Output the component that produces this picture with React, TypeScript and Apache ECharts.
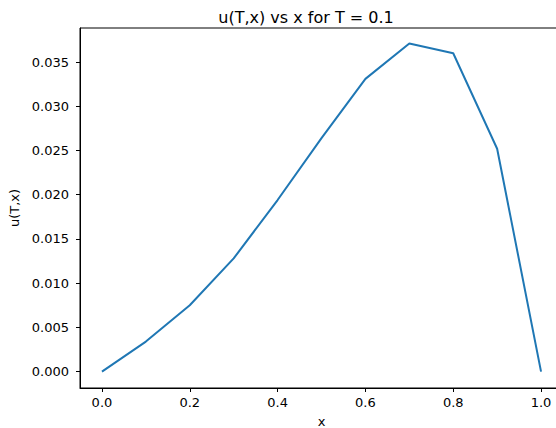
import React, { useEffect, useRef } from "react";
import * as echarts from "echarts";

const xValues = [0, 0.1, 0.2, 0.3, 0.4, 0.5, 0.6, 0.7, 0.8, 0.9, 1.0];
const uValues = [0, 0.0034, 0.0075, 0.0128, 0.0194, 0.0264, 0.0331, 0.0371, 0.036, 0.0252, 0];
const xTicks = [0, 0.2, 0.4, 0.6, 0.8, 1.0];
const yTicks = [0, 0.005, 0.01, 0.015, 0.02, 0.025, 0.03, 0.035];

const FONT = "DejaVu Sans";

export default function App() {
  const ref = useRef<HTMLDivElement>(null);
  useEffect(() => {
    if (!ref.current) return;
    const chart = echarts.init(ref.current, null, { renderer: "svg" });
    chart.setOption({
      animation: false,
      backgroundColor: "#ffffff",
      title: {
        text: "u(T,x) vs x for T = 0.1",
        left: 301,
        top: 4,
        textAlign: "center",
        textStyle: { fontFamily: FONT, fontSize: 16, fontWeight: "normal", color: "#000" },
      },
      grid: {
        left: 80,
        top: 28,
        right: 17,
        bottom: 40,
        outerBoundsMode: "none",
        containLabel: false,
        show: true,
        borderColor: "#000",
        borderWidth: 1,
        backgroundColor: "transparent",
      },
      xAxis: {
        type: "value",
        min: -0.05,
        max: 1.05,
        name: "x",
        nameLocation: "middle",
        nameGap: 27,
        nameTextStyle: { fontFamily: FONT, fontSize: 13, color: "#000" },
        splitLine: { show: false },
        axisLine: { show: true, onZero: false, lineStyle: { color: "#000", width: 1 } },
        axisTick: { show: true, length: 4, lineStyle: { color: "#000" }, customValues: xTicks },
        axisLabel: {
          customValues: xTicks,
          margin: 8,
          fontFamily: FONT,
          fontSize: 13,
          color: "#000",
          formatter: (v: number) => v.toFixed(1),
        },
      },
      yAxis: {
        type: "value",
        min: -0.00185,
        max: 0.03885,
        name: "u(T,x)",
        nameLocation: "middle",
        nameGap: 53,
        nameTextStyle: { fontFamily: FONT, fontSize: 13, color: "#000" },
        splitLine: { show: false },
        axisLine: { show: true, onZero: false, lineStyle: { color: "#000", width: 1 } },
        axisTick: { show: true, length: 4, lineStyle: { color: "#000" }, customValues: yTicks },
        axisLabel: {
          customValues: yTicks,
          margin: 11,
          fontFamily: FONT,
          fontSize: 13,
          color: "#000",
          formatter: (v: number) => v.toFixed(3),
        },
      },
      series: [
        {
          type: "line",
          data: xValues.map((x, i) => [x, uValues[i]]),
          showSymbol: false,
          symbol: "none",
          lineStyle: { color: "#1f77b4", width: 2 },
        },
      ],
    });
    return () => chart.dispose();
  }, []);
  return (
    <div
      style={{ position: "absolute", left: 0, top: 0, width: 556, height: 428, overflow: "hidden" }}
    >
      <div ref={ref} style={{ width: 580, height: 428 }} />
    </div>
  );
}
